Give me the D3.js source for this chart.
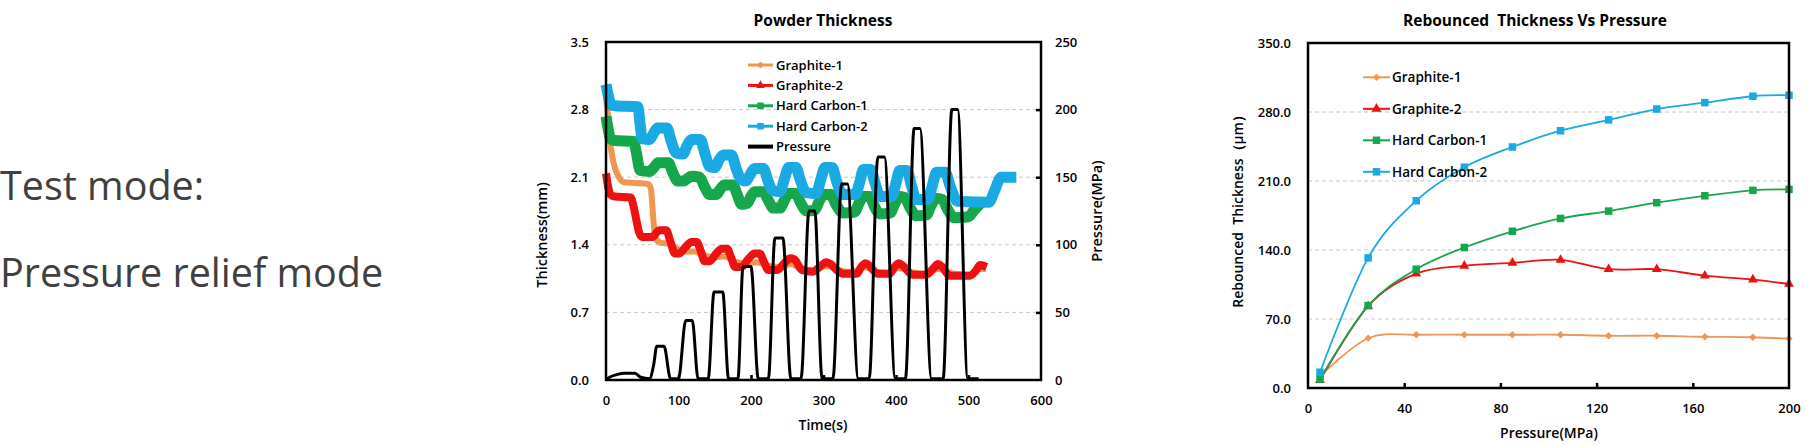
<!DOCTYPE html>
<html><head><meta charset="utf-8">
<script src="https://cdn.jsdelivr.net/npm/d3@7"></script>
<style>
body{margin:0;background:#fff}
text{font-family:"Open Sans","Noto Sans",sans-serif}
</style>
</head><body><svg id="c" width="1815" height="446"></svg>
<script>
// ---------------- data: Powder Thickness (time series, [t, value]) ----------------
const timeTicks = [0,100,200,300,400,500,600];
const thicknessTicks = [0,0.7,1.4,2.1,2.8,3.5];
const pressureTicks = [0,50,100,150,200,250];

const graphite1 = [[0,2.93],[3,2.72],[6,2.45],[9,2.3],[13,2.18],[18,2.1],[24,2.05],[40,2.04],[58,2.03],[62,1.98],[64,1.8],[66,1.6],[69,1.46],[76,1.42],[88,1.41],[96,1.37],[110,1.33],[122,1.33],[135,1.29],[150,1.27],[164,1.28],[180,1.22],[195,1.21],[208,1.22],[225,1.18],[240,1.17],[255,1.2],[270,1.15],[285,1.14],[304,1.18],[325,1.13],[340,1.12],[355,1.17],[375,1.12],[390,1.11],[403,1.16],[425,1.11],[440,1.1],[458,1.15],[480,1.1],[500,1.09],[516,1.15],[524,1.15]];
const graphite2 = [[0,2.14],[3,2.0],[6,1.92],[12,1.9],[34,1.89],[38,1.8],[42,1.65],[46,1.52],[50,1.48],[64,1.48],[70,1.53],[74,1.55],[83,1.55],[89,1.43],[95,1.31],[101,1.31],[110,1.38],[118,1.43],[125,1.43],[131,1.33],[136,1.23],[143,1.23],[152,1.31],[160,1.36],[167,1.36],[173,1.26],[178,1.17],[187,1.17],[196,1.25],[205,1.31],[212,1.31],[218,1.22],[224,1.14],[236,1.14],[246,1.21],[254,1.26],[260,1.25],[266,1.18],[270,1.14],[285,1.12],[296,1.18],[304,1.22],[310,1.2],[318,1.14],[327,1.1],[346,1.1],[352,1.17],[358,1.21],[364,1.18],[374,1.1],[391,1.1],[398,1.17],[404,1.21],[410,1.18],[423,1.09],[442,1.09],[452,1.16],[458,1.2],[464,1.17],[474,1.08],[502,1.08],[510,1.13],[516,1.19],[525,1.17]];
const hardCarbon1 = [[0,2.73],[3,2.6],[6,2.5],[12,2.48],[38,2.47],[42,2.35],[47,2.17],[60,2.16],[66,2.2],[72,2.25],[86,2.25],[92,2.15],[99,2.06],[107,2.06],[113,2.09],[118,2.11],[129,2.1],[136,2.0],[143,1.92],[152,1.92],[158,1.98],[163,2.02],[175,2.02],[181,1.92],[187,1.82],[195,1.83],[200,1.9],[205,1.95],[217,1.95],[224,1.86],[231,1.78],[240,1.78],[246,1.86],[252,1.93],[262,1.93],[268,1.84],[277,1.75],[288,1.76],[294,1.85],[300,1.92],[310,1.92],[317,1.82],[327,1.73],[343,1.74],[349,1.83],[355,1.9],[364,1.9],[370,1.8],[378,1.72],[392,1.73],[398,1.82],[404,1.9],[412,1.89],[419,1.79],[428,1.7],[442,1.71],[448,1.8],[455,1.88],[464,1.87],[471,1.77],[480,1.68],[500,1.69],[508,1.76],[518,1.84]];
const hardCarbon2 = [[0,3.06],[3,2.95],[7,2.85],[12,2.84],[44,2.83],[47,2.65],[50,2.5],[60,2.49],[66,2.56],[71,2.61],[84,2.61],[90,2.47],[97,2.35],[106,2.34],[112,2.43],[118,2.49],[130,2.49],[137,2.33],[143,2.21],[150,2.2],[156,2.28],[162,2.33],[173,2.33],[180,2.18],[187,2.07],[193,2.06],[199,2.13],[205,2.19],[217,2.19],[224,2.05],[230,1.96],[240,1.95],[246,2.08],[252,2.2],[262,2.2],[268,2.07],[276,1.94],[290,1.93],[296,2.07],[302,2.2],[312,2.2],[318,2.06],[326,1.92],[344,1.92],[350,2.05],[355,2.18],[365,2.18],[371,2.04],[378,1.9],[394,1.9],[400,2.04],[405,2.17],[415,2.17],[421,2.02],[428,1.87],[444,1.87],[450,2.01],[456,2.15],[468,2.15],[475,2.0],[485,1.85],[528,1.84],[536,1.96],[545,2.1],[566,2.1]];
const pressure = [[0,0],[5,2],[15,4],[25,5],[40,5],[48,2],[60,1],[66,12],[70,25],[80,25],[89,1],[100,1],[110,44],[119,44],[127,1],[141,1],[149,65],[161,65],[169,1],[182,1],[189,84],[200,84],[210,1],[224,1],[233,105],[244,105],[255,1],[269,1],[280,125],[288,125],[298,1],[313,1],[325,145],[333,145],[348,1],[363,1],[375,165],[384,165],[399,1],[413,1],[425,186],[433,186],[449,1],[465,1],[477,200],[485,200],[499,1],[514,1]];

// ---------------- data: Rebounced Thickness Vs Pressure ----------------
const pressureLevels = [5,25,45,65,85,105,125,145,165,185,200];
const rebGraphite1 = [12,50.5,54,54,54,54,53,53,52,51.5,50];
const rebGraphite2 = [8,83,116,124,127,130,120.5,120.5,114,110,105.5];
const rebHardCarbon1 = [9,83.5,120.5,142.5,159,172,179.5,188,195,200.5,201.5];
const rebHardCarbon2 = [16,132,190,224,244.5,261,272,283,289.5,296,297];
const rebXTicks = [0,40,80,120,160,200];
const rebYTicks = [0,70,140,210,280,350];

const seriesNames = ["Graphite-1","Graphite-2","Hard Carbon-1","Hard Carbon-2"];
const colors = {"Graphite-1":"#F0964F","Graphite-2":"#EE1111","Hard Carbon-1":"#16A64C","Hard Carbon-2":"#1AA9E2","Pressure":"#000"};
const markers = {"Graphite-1":"diamond","Graphite-2":"triangle","Hard Carbon-1":"square","Hard Carbon-2":"square"};

const svg = d3.select("#c");
const TXT = "#000";

// ---------- left text ----------
svg.append("text").attr("x",0).attr("y",200).attr("font-size",39.5).attr("fill","#404040").text("Test mode:");
svg.append("text").attr("x",0).attr("y",287).attr("font-size",39.5).attr("fill","#404040").text("Pressure relief mode");

function markerPath(type,size){
  const sym = type==="diamond"?d3.symbolDiamond2:type==="triangle"?d3.symbolTriangle2:d3.symbolSquare2;
  return d3.symbol().type(sym).size(size)();
}

// ================= Chart 1 =================
{
  const L=606,R=1041,T=42,B=380;
  const x = d3.scaleLinear().domain([0,600]).range([L,R]);
  const y = d3.scaleLinear().domain([0,3.5]).range([B,T]);
  const yp = d3.scaleLinear().domain([0,250]).range([B,T]);
  const g = svg.append("g");
  g.selectAll(".gl").data(thicknessTicks.slice(1,-1)).join("line")
    .attr("x1",L).attr("x2",R).attr("y1",d=>y(d)).attr("y2",d=>y(d))
    .attr("stroke","#c8c8c8").attr("stroke-dasharray","4,3");
  const widths = {"Graphite-1":6,"Graphite-2":8,"Hard Carbon-1":11,"Hard Carbon-2":11};
  const data = {"Graphite-1":graphite1,"Graphite-2":graphite2,"Hard Carbon-1":hardCarbon1,"Hard Carbon-2":hardCarbon2};
  const line = d3.line().x(d=>x(d[0])).y(d=>y(d[1])).curve(d3.curveMonotoneX);
  seriesNames.forEach(n=>{
    g.append("path").attr("d",line(data[n])).attr("fill","none").attr("stroke",colors[n])
      .attr("stroke-width",widths[n]).attr("stroke-linejoin","round");
  });
  const pline = d3.line().x(d=>x(d[0])).y(d=>yp(d[1])).curve(d3.curveMonotoneX);
  g.append("path").attr("d",pline(pressure)).attr("fill","none").attr("stroke","#000").attr("stroke-width",3).attr("stroke-linejoin","round");
  g.append("rect").attr("x",L).attr("y",T).attr("width",R-L).attr("height",B-T).attr("fill","none").attr("stroke","#000").attr("stroke-width",2.5);
  const ax = g.append("g").attr("transform",`translate(0,${B})`).call(d3.axisBottom(x).tickValues(timeTicks).tickSize(-5).tickPadding(16));
  const ay = g.append("g").attr("transform",`translate(${L},0)`).call(d3.axisLeft(y).tickValues(thicknessTicks).tickFormat(d3.format(".1f")).tickSize(0).tickPadding(17));
  const ayr = g.append("g").attr("transform",`translate(${R},0)`).call(d3.axisRight(yp).tickValues(pressureTicks).tickSize(-5).tickPadding(14));
  [ax,ay,ayr].forEach(a=>{a.select(".domain").remove();a.selectAll("line").attr("stroke","#000").attr("stroke-width",2.5);
    a.selectAll("text").attr("font-size",13).attr("font-weight",600).attr("fill",TXT).style("font-family","'Open Sans',sans-serif");});
  ax.selectAll(".tick").filter(d=>d===0||d===600).select("line").remove();
  ayr.selectAll(".tick").filter(d=>d===0||d===250).select("line").remove();
  g.append("text").attr("x",823).attr("y",26).attr("text-anchor","middle").attr("font-size",15.5).attr("font-weight",700).text("Powder Thickness");
  g.append("text").attr("x",823).attr("y",430).attr("text-anchor","middle").attr("font-size",14).attr("font-weight",600).text("Time(s)");
  g.append("text").attr("transform","translate(547,235) rotate(-90)").attr("text-anchor","middle").attr("font-size",14.5).attr("font-weight",600).text("Thickness(mm)");
  g.append("text").attr("transform","translate(1102,211) rotate(-90)").attr("text-anchor","middle").attr("font-size",14.5).attr("font-weight",600).text("Pressure(MPa)");
  const legNames = seriesNames.concat(["Pressure"]);
  const lg = g.append("g");
  legNames.forEach((n,i)=>{
    const yy = 65 + i*20.4;
    lg.append("line").attr("x1",748).attr("x2",773).attr("y1",yy).attr("y2",yy).attr("stroke",colors[n]).attr("stroke-width",n==="Pressure"?4:3);
    if(markers[n]) lg.append("path").attr("d",markerPath(markers[n],n==="Graphite-1"?30:55)).attr("transform",`translate(760.5,${yy})`).attr("fill",colors[n]);
    lg.append("text").attr("x",776).attr("y",yy+4.5).attr("font-size",13).attr("font-weight",600).text(n);
  });
}

// ================= Chart 2 =================
{
  const L=1308,R=1789,T=43,B=388;
  const x = d3.scaleLinear().domain([0,200]).range([L,R]);
  const y = d3.scaleLinear().domain([0,350]).range([B,T]);
  const g = svg.append("g");
  g.selectAll(".gl").data(rebYTicks.slice(1,-1)).join("line")
    .attr("x1",L).attr("x2",R).attr("y1",d=>y(d)).attr("y2",d=>y(d))
    .attr("stroke","#c8c8c8").attr("stroke-dasharray","4,3");
  const vals = {"Graphite-1":rebGraphite1,"Graphite-2":rebGraphite2,"Hard Carbon-1":rebHardCarbon1,"Hard Carbon-2":rebHardCarbon2};
  const line = d3.line().x(d=>x(d[0])).y(d=>y(d[1])).curve(d3.curveCatmullRom.alpha(0));
  const msize = {"Graphite-1":34,"Graphite-2":70,"Hard Carbon-1":72,"Hard Carbon-2":72};
  seriesNames.forEach(n=>{
    const pts = pressureLevels.map((p,i)=>[p,vals[n][i]]);
    g.append("path").attr("d",line(pts)).attr("fill","none").attr("stroke",colors[n]).attr("stroke-width",1.8);
    g.selectAll(null).data(pts).join("path").attr("d",markerPath(markers[n],msize[n]))
      .attr("transform",d=>`translate(${x(d[0])},${y(d[1])})`).attr("fill",colors[n]);
  });
  g.append("rect").attr("x",L).attr("y",T).attr("width",R-L).attr("height",B-T).attr("fill","none").attr("stroke","#000").attr("stroke-width",2.5);
  const ax = g.append("g").attr("transform",`translate(0,${B})`).call(d3.axisBottom(x).tickValues(rebXTicks).tickSize(-5).tickPadding(16));
  const ay = g.append("g").attr("transform",`translate(${L},0)`).call(d3.axisLeft(y).tickValues(rebYTicks).tickFormat(d3.format(".1f")).tickSize(0).tickPadding(17));
  [ax,ay].forEach(a=>{a.select(".domain").remove();a.selectAll("line").attr("stroke","#000").attr("stroke-width",2.5);
    a.selectAll("text").attr("font-size",13).attr("font-weight",600).attr("fill",TXT);});
  ax.selectAll(".tick").filter(d=>d===0||d===200).select("line").remove();
  g.append("text").attr("x",1535).attr("y",26).attr("text-anchor","middle").attr("font-size",15.5).attr("font-weight",700).attr("xml:space","preserve").text("Rebounced  Thickness Vs Pressure");
  g.append("text").attr("x",1549).attr("y",438).attr("text-anchor","middle").attr("font-size",14).attr("font-weight",600).text("Pressure(MPa)");
  g.append("text").attr("transform","translate(1243,208) rotate(-90)").attr("text-anchor","middle").attr("font-size",14).attr("font-weight",600).attr("xml:space","preserve").text("Rebounced  Thickness（μm）");
  const lg = g.append("g");
  seriesNames.forEach((n,i)=>{
    const yy = 77.3 + i*31.5;
    lg.append("line").attr("x1",1363).attr("x2",1390).attr("y1",yy).attr("y2",yy).attr("stroke",colors[n]).attr("stroke-width",2);
    lg.append("path").attr("d",markerPath(markers[n],msize[n])).attr("transform",`translate(1376.5,${yy})`).attr("fill",colors[n]);
    lg.append("text").attr("x",1392).attr("y",yy+5).attr("font-size",13.5).attr("font-weight",600).text(n);
  });
}
</script></body></html>
